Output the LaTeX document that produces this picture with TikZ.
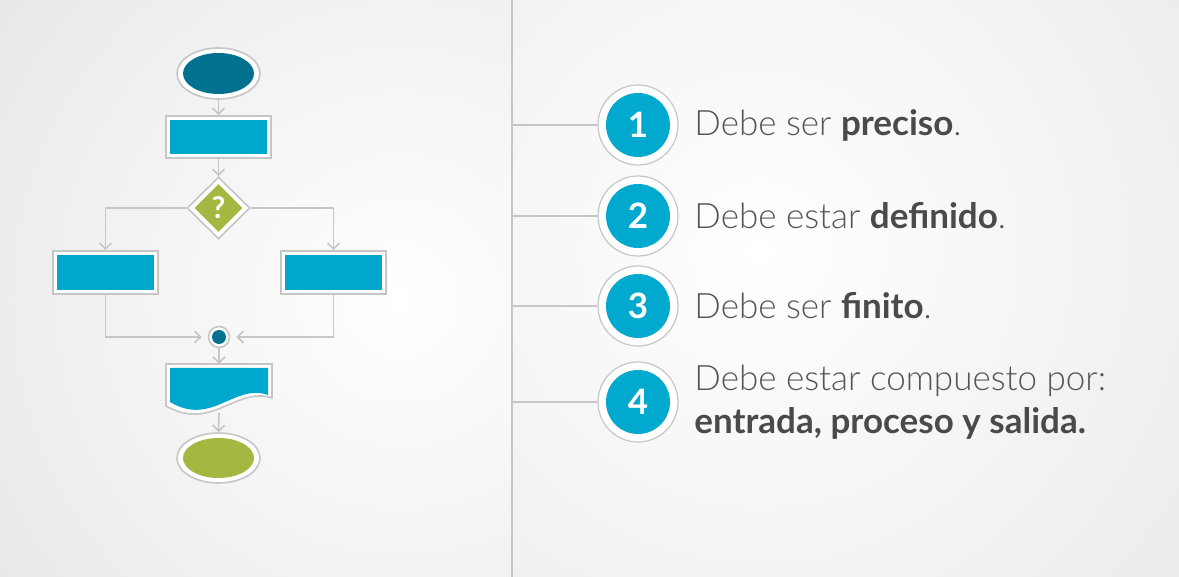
\documentclass[tikz,border=0pt]{standalone}
\usepackage{fontspec}
\setmainfont{Lato}
\newfontfamily\latolight{Lato Light}
\usetikzlibrary{arrows.meta,shapes.geometric,calc}
\definecolor{bgc}{HTML}{DCDCDC}
\definecolor{linec}{HTML}{C6C6C6}
\definecolor{darkteal}{HTML}{00718F}
\definecolor{flowblue}{HTML}{00A7CC}
\definecolor{flowgreen}{HTML}{A4B741}
\definecolor{numblue}{HTML}{00A9CD}
\definecolor{txtgray}{HTML}{555555}
\definecolor{boldgray}{HTML}{4A4A4A}
\tikzset{
  outerbox/.style={draw=linec, line width=0.8pt, fill=white, inner sep=0pt},
  conn/.style={draw=linec, line width=0.8pt, -{Straight Barb[length=3pt,width=6pt]}},
  plainconn/.style={draw=linec, line width=0.8pt},
  numouter/.style={circle, draw=linec, line width=0.6pt, fill=white, minimum size=40pt, inner sep=0pt},
  numinner/.style={circle, fill=numblue, minimum size=32pt, inner sep=0pt, text=white, font=\fontsize{17.5}{19}\selectfont\bfseries},
  itemtext/.style={anchor=west, text=txtgray, font=\latolight\fontsize{17.5}{21}\selectfont, inner sep=0pt, align=left},
}
\begin{document}
\begin{tikzpicture}[x=0.5pt, y=-0.5pt]
\useasboundingbox (0,0) rectangle (1179,577);
% background
\fill[bgc] (0,0) rectangle (1179,577);
\begin{scope}
  \clip (0,0) rectangle (512,577);
  \shade[inner color=white, outer color=bgc] (400,300) circle (780);
\end{scope}
\begin{scope}
  \clip (512,0) rectangle (1179,577);
  \shade[inner color=white, outer color=bgc] (760,250) circle (960);
\end{scope}
\draw[linec, line width=0.8pt] (512,0) -- (512,577);

% ---------- flowchart ----------
% start ellipse
\node[outerbox, ellipse, minimum width=41.5pt, minimum height=25.5pt] (start) at (218.5,73.5) {};
\node[ellipse, fill=darkteal, minimum width=35.5pt, minimum height=20.5pt, inner sep=0pt] (starti) at (start) {};
% process 1
\node[outerbox, rectangle, minimum width=52.5pt, minimum height=21pt] (proc) at (218.5,137) {};
\node[rectangle, fill=flowblue, minimum width=48.5pt, minimum height=17pt, inner sep=0pt] (proci) at (proc) {};
% decision
\node[outerbox, diamond, minimum width=31.5pt, minimum height=31pt] (dec) at (218.5,208) {};
\node[diamond, fill=flowgreen, minimum width=24pt, minimum height=24pt, inner sep=0pt, text=white, font=\fontsize{15}{16}\selectfont\bfseries] (deci) at (dec) {?};
% left / right process
\node[outerbox, rectangle, minimum width=52.5pt, minimum height=21.5pt] (left) at (105.5,272.5) {};
\node[rectangle, fill=flowblue, minimum width=48.5pt, minimum height=17.5pt, inner sep=0pt] (lefti) at (left) {};
\node[outerbox, rectangle, minimum width=52.5pt, minimum height=21.5pt] (right) at (333.5,272.5) {};
\node[rectangle, fill=flowblue, minimum width=48.5pt, minimum height=17.5pt, inner sep=0pt] (righti) at (right) {};
% merge circle
\node[outerbox, circle, minimum size=10.5pt] (merge) at (219,337) {};
\node[circle, fill=darkteal, minimum size=7pt, inner sep=0pt] (mergei) at (merge) {};
% document
\coordinate (doctop) at (219,364);
\coordinate (docbot) at (219,413);
\fill[white, draw=linec, line width=0.8pt] (166,364) -- (272,364) -- (272,398)
   .. controls (236,386) and (212,432) .. (166,406) -- cycle;
\fill[flowblue] (170,368) -- (268,368) -- (268,395)
   .. controls (234,383) and (212,427) .. (170,402) -- cycle;
% end ellipse
\node[outerbox, ellipse, minimum width=41.5pt, minimum height=25pt] (stop) at (218.5,458) {};
\node[ellipse, fill=flowgreen, minimum width=35.5pt, minimum height=20pt, inner sep=0pt] (stopi) at (stop) {};

% connectors
\draw[conn] (start.south) -- (proc.north);
\draw[conn] (proc.south) -- (dec.north);
\draw[conn] (dec.west) -| (left.north);
\draw[conn] (dec.east) -| (right.north);
\draw[conn] (left.south) |- ($(merge.west)+(-6,0)$);
\draw[conn] (right.south) |- ($(merge.east)+(6,0)$);
\draw[conn] (merge.south) -- (doctop);
\draw[conn] (docbot) -- (stop.north);

% ---------- list ----------
\foreach \i/\y in {1/125, 2/216, 3/306, 4/402} {
  \node[numouter] (o\i) at (638,\y) {};
  \node[numinner] (n\i) at (o\i) {\i};
  \coordinate (l\i) at (512,\y);
  \draw[plainconn] (l\i) -- (o\i.west);
}
\node[itemtext] (t1) at (694,125) {Debe ser {\fontspec{Lato}\bfseries\color{boldgray}preciso}.};
\node[itemtext] (t2) at (694,216) {Debe estar {\fontspec{Lato}\bfseries\color{boldgray}definido}.};
\node[itemtext] (t3) at (694,306) {Debe ser {\fontspec{Lato}\bfseries\color{boldgray}finito}.};
\node[itemtext, font=\latolight\fontsize{17.5}{21.5}\selectfont] (t4) at (694,402) {Debe estar compuesto por:\\{\fontspec{Lato}\bfseries\color{boldgray}entrada, proceso y salida.}};
\end{tikzpicture}
\end{document}
